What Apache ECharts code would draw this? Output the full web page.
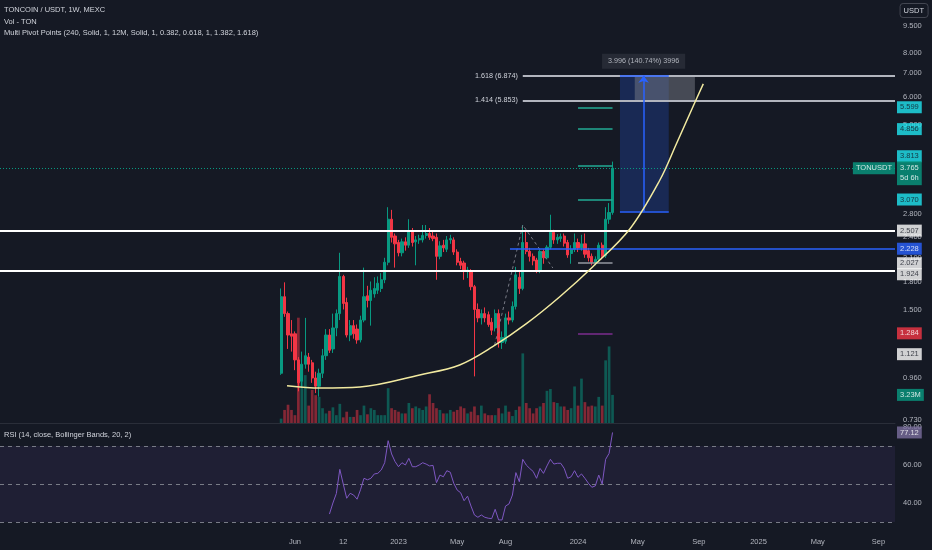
<!DOCTYPE html>
<html><head><meta charset="utf-8">
<script src="https://cdn.jsdelivr.net/npm/echarts@6/dist/echarts.min.js"></script>
<style>html,body{margin:0;padding:0;background:#151924;}#c{width:932px;height:550px;}</style>
</head><body><div id="c"></div>
<script>
// ---------- data ----------
const firstBarDate = '2022-05-09'; // weekly bars
const opens  = [0.99,1.63,1.46,1.28,1.28,1.08,0.94,1.05,1.10,1.06, 0.96,0.91,0.99,1.11,1.27,1.16,1.33,1.46,1.86,1.57, 1.27,1.35,1.32,1.23,1.40,1.64,1.59,1.66,1.70,1.72, 1.82,2.04,2.70,2.42,2.32,2.17,2.33,2.28,2.49,2.33, 2.36,2.36,2.43,2.46,2.42,2.40,2.12,2.28,2.22,2.36, 2.36,2.18,2.05,2.03,1.92,1.92,1.74,1.50,1.42,1.46, 1.45,1.38,1.33,1.46,1.21,1.22,1.42,1.40,1.53,1.85, 1.72,2.32,2.19,2.12,2.07,1.93,2.19,2.10,2.25,2.48, 2.36,2.38,2.42,2.32,2.16,2.22,2.32,2.24,2.30,2.20, 2.12,2.04,2.08,2.28,2.13,2.70,2.82];
const closes = [1.63,1.46,1.27,1.26,1.08,0.93,1.05,1.11,1.05,0.96, 0.91,0.99,1.11,1.27,1.15,1.33,1.46,1.86,1.56,1.27, 1.35,1.28,1.23,1.40,1.63,1.59,1.70,1.72,1.78,1.82, 2.04,2.70,2.40,2.30,2.17,2.33,2.28,2.49,2.32,2.36, 2.38,2.43,2.46,2.40,2.38,2.12,2.27,2.24,2.36,2.38, 2.18,2.04,2.00,1.93,1.94,1.74,1.50,1.42,1.46,1.42, 1.36,1.31,1.46,1.21,1.25,1.42,1.40,1.53,1.88,1.72, 2.32,2.19,2.12,2.06,1.93,2.19,2.10,2.25,2.48,2.36, 2.40,2.41,2.31,2.14,2.22,2.32,2.24,2.30,2.15,2.10, 2.04,2.08,2.28,2.12,2.70,2.82,3.765];
const lows   = [0.98,1.43,1.16,1.14,1.01,0.88,0.90,1.02,1.00,0.93, 0.87,0.85,0.96,1.08,1.13,1.13,1.26,1.40,1.50,1.25, 1.22,1.24,1.20,1.21,1.38,1.52,1.35,1.62,1.66,1.68, 1.78,2.00,2.32,1.97,2.12,2.12,2.20,2.24,2.26,2.00, 2.30,2.32,2.38,2.36,2.34,1.82,2.08,2.18,2.18,2.30, 2.14,2.00,1.95,1.82,1.84,1.70,0.97,1.38,1.36,1.38, 1.34,1.27,1.30,1.17,1.16,1.20,1.36,1.38,1.50,1.66, 1.70,2.15,2.05,2.00,1.90,1.90,2.02,2.08,2.22,2.30, 2.30,2.33,2.26,2.10,2.02,2.18,2.18,2.20,2.10,2.05, 2.00,2.00,2.05,2.08,2.10,2.62,2.78];
const highs  = [1.72,1.79,1.48,1.40,1.30,1.10,1.14,1.42,1.13,1.08, 1.00,1.02,1.16,1.32,1.32,1.46,1.50,2.17,1.88,1.62, 1.40,1.40,1.36,1.44,1.97,1.75,1.80,1.85,1.86,1.90, 2.10,2.92,2.87,2.46,2.36,2.38,2.40,2.70,2.55,2.42, 2.44,2.60,2.60,2.55,2.50,2.46,2.34,2.36,2.42,2.44, 2.40,2.22,2.10,2.06,1.98,1.95,1.76,1.56,1.50,1.52, 1.48,1.42,1.50,1.50,1.30,1.46,1.48,1.58,1.98,1.92, 2.60,2.52,2.24,2.16,2.10,2.22,2.22,2.28,2.78,2.52, 2.45,2.46,2.46,2.36,2.28,2.46,2.38,2.44,2.46,2.24, 2.16,2.12,2.32,2.32,2.92,3.00,3.93];
const volumesM = [0.5,1.5,2.1,1.5,0.9,12.1,6.7,5.5,2.0,3.8, 3.2,3.0,1.7,1.1,1.4,1.8,0.9,2.2,0.65,1.3, 0.7,0.7,1.5,0.9,2.0,1.0,1.7,1.5,0.9,0.9, 0.9,4.0,1.7,1.5,1.3,1.1,1.1,2.3,1.7,1.9, 1.7,1.5,1.9,3.3,2.3,1.7,1.5,1.1,1.1,1.5, 1.3,1.5,1.9,1.7,1.1,1.3,1.9,0.9,2.0,1.1, 0.9,0.9,0.9,1.7,1.1,2.0,1.3,0.8,1.5,1.9, 8.0,2.3,1.7,1.1,1.7,1.9,2.3,3.7,3.9,2.4, 2.3,1.9,1.9,1.5,1.7,4.2,2.0,5.1,2.4,1.9, 2.0,1.9,3.0,2.0,7.2,8.8,3.23];
const rsiStartBar = 14;
const rsiValues = [34.2,40,45,57.7,50,42.5,45.1,44.2,42.0,47, 53.0,52.2,53.0,55.3,55.6,57.4,61.2,72.8,65.8,61.8, 59.1,61.2,60.0,63.5,59.1,59.1,60.0,61.2,60.5,59.5, 59.8,50.7,54.7,53.8,57.0,56.2,50.4,46.8,45.4,41.2, 43.6,38.4,33.7,32.5,33.7,32.5,32.0,31.8,36.7,31.1, 31.1,38.4,39.5,44.2,56.0,51.2,63.0,60.0,58.2,56.6, 53.0,58.2,55.6,59.5,63.0,60.5,60.9,60.9,58.2,53.0, 53.8,57.0,53.5,55.3,53.0,50.4,48.3,49.0,54.7,50.0, 63.0,66.1,77.12];
const priceTicks = [9.5, 8, 7, 6, 5, 2.8, 2.4, 2.1, 1.8, 1.5, 0.96, 0.73];
const rsiTicks = [80, 60, 40];
const rsiBands = [70, 50, 30];
const timeLabelDates = ['2022-06-06','2022-09-12','2023-01-02','2023-05-01','2023-08-07','2024-01-01','2024-05-01','2024-09-02','2025-01-01','2025-05-01','2025-09-01'];
const timeLabelTexts = ['Jun','12','2023','May','Aug','2024','May','Sep','2025','May','Sep'];
const supportLevels = [2.507, 1.924];
const blueLevel = 2.228, blueFrom = '2023-08-16';
const fibRatios = [1.618, 1.414], fibPrices = [6.874, 5.853], fibFrom = '2023-09-11';
const pivotLevels = [5.599, 4.856, 3.813, 3.070, 2.027, 1.284];
const pivotFrom = '2024-01-01', pivotTo = '2024-03-11';
const lastPrice = 3.765, lastVolume = 3.23, lastRsi = 77.12;
const badgeValues = [5.599, 4.856, 3.813, 3.070, 2.507, 2.228, 2.027, 1.924, 1.284, 1.121];
const rangeLow = 2.839, rangeHigh = 6.874, rangeFrom = '2024-03-26', rangeTo = '2024-07-03', rangeMid = '2024-05-13';
const rangeLabel = '3.996 (140.74%) 3996';
const grayFrom = '2024-04-25', grayTo = '2024-08-25';
const curveDates  = ['2022-05-21','2022-07-27','2022-10-16','2023-02-14','2023-05-06','2023-07-12','2023-09-19','2023-11-25','2024-01-31','2024-04-15','2024-06-15','2024-07-19','2024-08-21','2024-09-11'];
const curvePrices = [0.913,0.899,0.905,0.979,1.045,1.177,1.370,1.630,1.982,2.534,3.486,4.43,5.62,6.52];
const zigDates  = ['2023-07-16','2023-09-11','2023-11-11'];
const zigPrices = [1.19, 2.60, 1.965];
const axisRange = { xMin: '2020-10-16', xMax: '2025-10-04T17:00:00Z', pMin: 0.716, pMax: 11.26, volMax: 12.64, rsiMin: 25.8, rsiMax: 82.1 };

// ---------- styles ----------
const FONT = '"Liberation Sans", Arial, sans-serif';
const BG = '#151924', TXT = '#d1d4dc', AX = '#b2b5be';
const UP = '#089981', DN = '#f23645';
const CYAN = '#1fe5f0';
const badgeBg = [CYAN, CYAN, CYAN, CYAN, '#ffffff', '#2962ff', '#ffffff', '#ffffff', '#f23645', '#ffffff'];
const badgeFg = ['#131722','#131722','#131722','#131722','#131722','#ffffff','#131722','#131722','#ffffff','#131722'];
const badgeShift = [0, 0, -10, 0, 0, 0, 0, 3, 0, 0];
const pivotColors = ['#22ab94','#22ab94','#22ab94','#22ab94','#9598a1','#7b2d8e'];

// ---------- build ----------
const T = s => Date.parse(s.length === 10 ? s + 'T00:00:00Z' : s);
const L = Math.log;
const DAY = 86400000;
const t0 = T(firstBarDate);
const barTimes = opens.map((_, i) => t0 + i * 7 * DAY);
const xMin = T(axisRange.xMin), xMax = T(axisRange.xMax);

const candleData = opens.map((o, i) => [barTimes[i], L(o), L(closes[i]), L(lows[i]), L(highs[i])]);
const volData = volumesM.map((v, i) => ({ value: [barTimes[i], v], itemStyle: { color: closes[i] >= opens[i] ? 'rgba(8,153,129,0.5)' : 'rgba(242,54,69,0.5)' } }));
const rsiData = rsiValues.map((v, i) => [barTimes[rsiStartBar + i], v]);
const labelMap = {};
timeLabelDates.forEach((d, i) => { labelMap[T(d)] = timeLabelTexts[i]; });

const seg = (x1, x2, v, style, extra) => [Object.assign({ coord: [x1, L(v)], lineStyle: style }, extra || {}), { coord: [x2, L(v)] }];
const lines = [];
supportLevels.forEach(v => lines.push(seg(xMin, xMax, v, { color: '#ffffff', width: 2, type: 'solid' })));
lines.push(seg(T(blueFrom), xMax, blueLevel, { color: '#2962ff', width: 1.5, type: 'solid' }));
fibPrices.forEach((p, i) => lines.push(seg(T(fibFrom), xMax, p, { color: '#b2b5be', width: 2, type: 'solid' },
  { label: { show: true, position: 'start', distance: 5, formatter: fibRatios[i].toFixed(3) + ' (' + p.toFixed(3) + ')', color: TXT, fontSize: 7.2, fontFamily: FONT, padding: [0, 0, 14, 0] } })));
pivotLevels.forEach((p, i) => lines.push(seg(T(pivotFrom), T(pivotTo), p, { color: pivotColors[i], width: 1.5, type: 'solid' })));
lines.push(seg(xMin, xMax, lastPrice, { color: UP, width: 1, type: [1, 2] }));
lines.push(seg(T(rangeFrom), T(rangeTo), rangeLow, { color: '#2962ff', width: 1.5, type: 'solid' }));
lines.push(seg(T(rangeFrom), T(rangeTo), rangeHigh, { color: '#2962ff', width: 1.5, type: 'solid' }));
lines.push([{ coord: [T(rangeMid), L(rangeLow)], symbol: 'none', lineStyle: { color: '#2962ff', width: 1.5, type: 'solid' } },
            { coord: [T(rangeMid), L(rangeHigh)], symbol: 'arrow', symbolSize: [8, 7] }]);

const badge = (txt, bg, fg, shift, extra) => Object.assign({ show: true, position: 'right', distance: 2, offset: [0, shift || 0], formatter: txt,
  backgroundColor: bg, color: fg, padding: [2, 3, 1, 3], fontSize: 7.5, fontFamily: FONT, lineHeight: 9 }, extra || {});

const option = {
  backgroundColor: BG,
  animation: false,
  textStyle: { fontFamily: FONT },
  title: [
    { text: 'TONCOIN / USDT, 1W, MEXC', left: 4, top: 6, padding: 0, textStyle: { fontSize: 7.5, color: TXT, fontWeight: 'normal', fontFamily: FONT } },
    { text: 'Vol - TON', left: 4, top: 17.5, padding: 0, textStyle: { fontSize: 7.5, color: TXT, fontWeight: 'normal', fontFamily: FONT } },
    { text: 'Multi Pivot Points (240, Solid, 1, 12M, Solid, 1, 0.382, 0.618, 1, 1.382, 1.618)', left: 4, top: 29, padding: 0, textStyle: { fontSize: 7.5, color: TXT, fontWeight: 'normal', fontFamily: FONT } },
    { text: 'RSI (14, close, Bollinger Bands, 20, 2)', left: 4, top: 431, padding: 0, textStyle: { fontSize: 7.5, color: TXT, fontWeight: 'normal', fontFamily: FONT } },
    { text: 'USDT', right: 4, top: 3, padding: [4, 4, 3, 4], borderColor: '#434651', borderWidth: 1, borderRadius: 3, textStyle: { fontSize: 7.5, color: TXT, fontWeight: 'normal', fontFamily: FONT } }
  ],
  grid: [
    { left: 0, right: 37, top: 0, height: 423 },
    { left: 0, right: 37, top: 313, height: 110 },
    { left: 0, right: 37, top: 423, height: 107 }
  ],
  xAxis: [0, 1, 2].map(g => ({
    type: 'value', gridIndex: g, min: xMin, max: xMax, scale: true,
    axisLine: { show: g === 0, onZero: false, lineStyle: { color: '#2a2e39', width: 1 } },
    axisTick: { show: false }, splitLine: { show: false },
    axisLabel: g === 2 ? { customValues: timeLabelDates.map(T), formatter: v => labelMap[v] || '', color: AX, fontSize: 7.5, fontFamily: FONT, margin: 8 } : { show: false }
  })),
  yAxis: [
    { type: 'value', gridIndex: 0, position: 'right', min: L(axisRange.pMin), max: L(axisRange.pMax),
      axisLine: { show: false }, axisTick: { show: false }, splitLine: { show: false },
      axisLabel: { customValues: priceTicks.map(L), formatter: v => Math.exp(v).toFixed(3), color: AX, fontSize: 7.5, fontFamily: FONT, margin: 8 } },
    { type: 'value', gridIndex: 1, min: 0, max: axisRange.volMax, show: false },
    { type: 'value', gridIndex: 2, position: 'right', min: axisRange.rsiMin, max: axisRange.rsiMax,
      axisLine: { show: false }, axisTick: { show: false }, splitLine: { show: false },
      axisLabel: { customValues: rsiTicks, formatter: v => v.toFixed(2), color: AX, fontSize: 7.5, fontFamily: FONT, margin: 8 } }
  ],
  series: [
    { name: 'vol', type: 'bar', xAxisIndex: 1, yAxisIndex: 1, data: volData, barWidth: 2.7, silent: true, z: 1 },
    { name: 'price', type: 'candlestick', xAxisIndex: 0, yAxisIndex: 0, data: candleData,
      encode: { x: 0, y: [1, 2, 3, 4] }, barWidth: 2.7, silent: true, z: 3,
      itemStyle: { color: UP, color0: DN, borderColor: UP, borderColor0: DN, borderWidth: 1 },
      markArea: { silent: true, data: [
        [{ coord: [T(rangeFrom), L(rangeLow)], itemStyle: { color: 'rgba(41,98,255,0.22)' } }, { coord: [T(rangeTo), L(rangeHigh)] }],
        [{ coord: [T(grayFrom), L(fibPrices[1])], itemStyle: { color: 'rgba(120,123,134,0.5)' } }, { coord: [T(grayTo), L(fibPrices[0])] }]
      ] },
      markLine: { silent: true, symbol: 'none', animation: false, label: { show: false }, data: lines }
    },
    { name: 'curve', type: 'line', xAxisIndex: 0, yAxisIndex: 0, data: curveDates.map((d, i) => [T(d), L(curvePrices[i])]),
      smooth: 0.35, showSymbol: false, silent: true, z: 5, lineStyle: { color: '#f2eaa0', width: 1.5 } },
    { name: 'zig', type: 'line', xAxisIndex: 0, yAxisIndex: 0, data: zigDates.map((d, i) => [T(d), L(zigPrices[i])]),
      showSymbol: false, silent: true, z: 4, lineStyle: { color: '#787b86', width: 1, type: [3, 3] } },
    { name: 'badges', type: 'scatter', xAxisIndex: 0, yAxisIndex: 0, symbolSize: 0, clip: false, silent: true, z: 10,
      data: badgeValues.map((v, i) => ({ value: [xMax, L(v)], label: badge(v.toFixed(3), badgeBg[i], badgeFg[i], badgeShift[i]) }))
        .concat([
          { value: [xMax, L(lastPrice)], label: badge(lastPrice.toFixed(3) + '\n5d 6h', UP, '#ffffff', 5, { padding: [2, 3, 2, 3], lineHeight: 10 }) },
          { value: [xMax, L(lastPrice)], label: badge('TONUSDT', UP, '#ffffff', 0, { position: 'left', distance: 0 }) },
          { value: [T(rangeMid), L(rangeHigh)], label: { show: true, position: 'top', distance: 7, formatter: rangeLabel, backgroundColor: '#2a2e39', color: TXT, padding: [4, 6], fontSize: 7.2, fontFamily: FONT } }
        ]) },
    { name: 'volBadge', type: 'scatter', xAxisIndex: 1, yAxisIndex: 1, symbolSize: 0, clip: false, silent: true, z: 10,
      data: [{ value: [xMax, lastVolume], label: badge(lastVolume.toFixed(2) + 'M', UP, '#ffffff', 0) }] },
    { name: 'rsi', type: 'line', xAxisIndex: 2, yAxisIndex: 2, data: rsiData, showSymbol: false, silent: true, z: 5,
      lineStyle: { color: '#7e57c2', width: 1 },
      markArea: { silent: true, data: [[{ yAxis: rsiBands[0], itemStyle: { color: 'rgba(126,87,194,0.1)' } }, { yAxis: rsiBands[2] }]] },
      markLine: { silent: true, symbol: 'none', label: { show: false }, lineStyle: { color: '#787b86', width: 1, type: [4, 4] },
        data: rsiBands.map(v => ({ yAxis: v })) } },
    { name: 'rsiBadge', type: 'scatter', xAxisIndex: 2, yAxisIndex: 2, symbolSize: 0, clip: false, silent: true, z: 10,
      data: [{ value: [xMax, lastRsi], label: badge(lastRsi.toFixed(2), '#7b6e9e', '#ffffff', 0) }] }
  ]
};
const chart = echarts.init(document.getElementById('c'));
chart.setOption(option);
</script></body></html>
